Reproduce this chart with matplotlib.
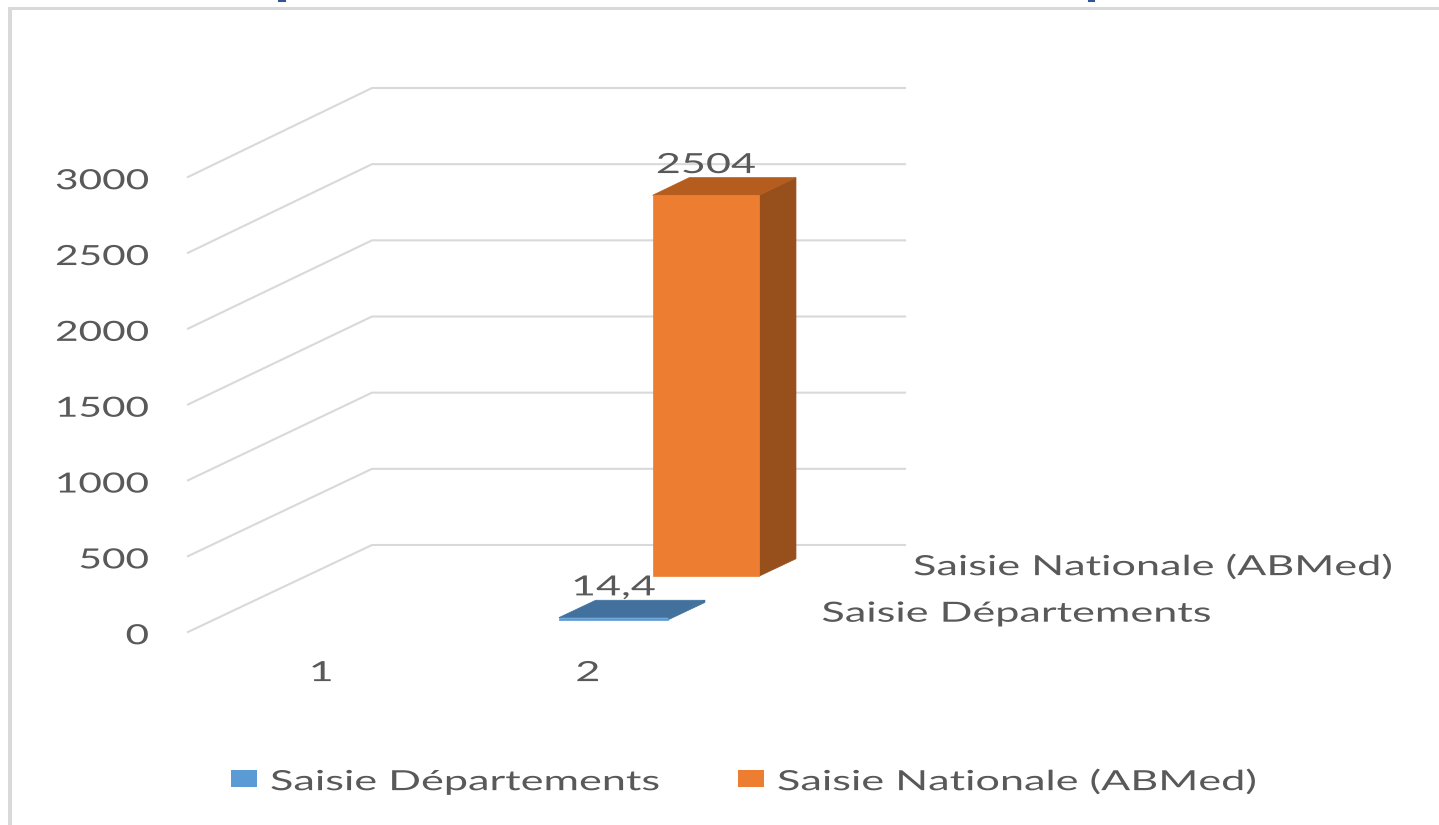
import numpy as np
import matplotlib
matplotlib.use("Agg")
import matplotlib.pyplot as plt
from matplotlib.patches import Polygon, Patch, Rectangle
from matplotlib.lines import Line2D
from matplotlib.patheffects import AbstractPathEffect
from matplotlib.transforms import Affine2D

categories = ["1", "2"]
series_names = ["Saisie Départements", "Saisie Nationale (ABMed)"]
dept_values = [np.nan, 14.4]
national_values = [np.nan, 2504]
dept_labels = [None, "14,4"]
national_labels = [None, "2504"]
y_ticks = [0, 500, 1000, 1500, 2000, 2500, 3000]

W, H = 1439, 825
TXT = "#595959"
GRID = "#D9D9D9"
FS = 20
plt.rcParams["font.family"] = ["Lato", "DejaVu Sans"]

fig = plt.figure(figsize=(W / 100, H / 100), dpi=100, facecolor="white")


class StretchX(AbstractPathEffect):
    """Widen a text horizontally about its anchor: the source image is stretched."""

    def __init__(self, text, sx, dy=-1.7):
        super().__init__()
        self.text = text
        self.sx = sx
        self.dy = dy

    def draw_path(self, renderer, gc, tpath, affine, rgbFace=None):
        bb = self.text.get_window_extent()
        ha = self.text.get_ha()
        cx = {"left": bb.x0, "right": bb.x1}.get(ha, (bb.x0 + bb.x1) / 2)
        stretched = affine + Affine2D().translate(-cx, 0).scale(self.sx, 1).translate(cx, self.dy)
        renderer.draw_path(gc, tpath, stretched, rgbFace)


def stretch(text, sx):
    text.set_path_effects([StretchX(text, sx)])


# measure the natural width of the longest label to derive the stretch
probe = fig.text(0, 0, series_names[1], fontsize=FS)
probe0 = fig.text(0, 0, series_names[0], fontsize=FS)
renderer = fig.canvas.get_renderer()
w1 = probe.get_window_extent(renderer).width
w0 = probe0.get_window_extent(renderer).width
probe.remove()
probe0.remove()
SX = 480 / w1

# front plane of the pseudo-3D box
L, R, B, T = 188, 721, 632, 177
ax = fig.add_axes([L / W, 1 - B / H, (R - L) / W, (B - T) / H])
ax.set_xlim(0.5, 2.5)
ax.set_ylim(0, 3000)
ax.patch.set_alpha(0)
for s in ax.spines.values():
    s.set_visible(False)

DX = 184 / ((R - L) / 2)          # depth offset, x data units
DY = 87 / ((B - T) / 3000)        # depth offset, y data units
BACK_SCALE = 457 / 455


def proj(x, y, d):
    return (x + d * DX, y * (1 + (BACK_SCALE - 1) * d) + d * DY)


# walls
for v in y_ticks:
    p0 = proj(0.5, v, 0)
    p1 = proj(0.5, v, 1)
    p2 = proj(2.5, v, 1)
    ax.plot([p0[0], p1[0], p2[0]], [p0[1], p1[1], p2[1]], color=GRID, lw=1.5,
            clip_on=False, zorder=1, solid_joinstyle="miter")


def bar3d(cat, val, d0, depth, width, front, side, top, zorder):
    x0, x1 = cat - width / 2, cat + width / 2
    d1 = d0 + depth
    faces = [
        ([proj(x1, 0, d0), proj(x1, 0, d1), proj(x1, val, d1), proj(x1, val, d0)], side),
        ([proj(x0, val, d0), proj(x1, val, d0), proj(x1, val, d1), proj(x0, val, d1)], top),
        ([proj(x0, 0, d0), proj(x1, 0, d0), proj(x1, val, d0), proj(x0, val, d0)], front),
    ]
    for pts, col in faces:
        ax.add_patch(Polygon(pts, closed=True, facecolor=col, edgecolor=col, lw=0.5,
                             clip_on=False, zorder=zorder))


series = [
    (dept_values, dept_labels, 0.14, 0.41, "#5B9BD5", "#41719C", "#41719C", 3),
    (national_values, national_labels, 0.642, 0.40, "#ED7D31", "#974F1C", "#B55D1F", 2),
]
for vals, labs, d0, width, front, side, top, z in series:
    for i, (v, lab) in enumerate(zip(vals, labs)):
        if np.isnan(v):
            continue
        bar3d(i + 1, v, d0, 0.2, width, front, side, top, z)
        px, py = proj(i + 1, v, d0)
        t = ax.annotate(lab, xy=(px, py), xytext=(0, 23), textcoords="offset points",
                        ha="center", va="center", fontsize=FS, color=TXT, zorder=5,
                        annotation_clip=False)
        stretch(t, SX)

ax.set_xticks([1, 2], categories)
ax.set_yticks(y_ticks, [str(v) for v in y_ticks])
ax.tick_params(axis="both", length=0, labelsize=FS, labelcolor=TXT)
ax.tick_params(axis="y", pad=28)
ax.tick_params(axis="x", pad=19)

# depth-axis labels
for name, cx, cy in [(series_names[1], 1153, 565), (series_names[0], 1017, 612)]:
    t = ax.annotate(name, xy=(cx / W, 1 - cy / H), xycoords="figure fraction",
                    ha="center", va="center", fontsize=FS, color=TXT)
    stretch(t, SX)

# legend
handles = [Patch(facecolor="#5B9BD5", label=series_names[0]),
           Patch(facecolor="#ED7D31", label=series_names[1])]
em = FS * 100 / 72
hl = 26 / em
pad = 13 / em
cs = (738 - 231 - 26 - 13 - w0) / em
leg = fig.legend(handles=handles, loc="center left", bbox_to_anchor=(231 / W, 1 - 780 / H), ncol=2,
                 frameon=False, fontsize=FS, labelcolor=TXT, handlelength=hl, handleheight=0.6,
                 handletextpad=pad, columnspacing=cs, borderpad=0, borderaxespad=0)
for t in leg.get_texts():
    stretch(t, SX)

# outer frame, left and top only
fig.add_artist(Rectangle((8 / W, 1 - 825 / H), 4 / W, 817 / H, transform=fig.transFigure,
                         facecolor="#D9D9D9", edgecolor="none"))
fig.add_artist(Rectangle((8 / W, 1 - 10 / H), (W - 8) / W, 3 / H, transform=fig.transFigure,
                         facecolor="#D9D9D9", edgecolor="none"))
# clipped remnants of text above the frame
for xa, xb in [(279, 285), (1089, 1094)]:
    fig.add_artist(Line2D([xa / W, xb / W], [1 - 0.5 / H, 1 - 0.5 / H], color="#2F5597", lw=1.5))

fig.canvas.draw()
for t in ax.get_xticklabels():
    stretch(t, SX)
for t in ax.get_yticklabels():
    stretch(t, SX * 0.94)

fig.savefig("out.png", dpi=100, facecolor="white")
